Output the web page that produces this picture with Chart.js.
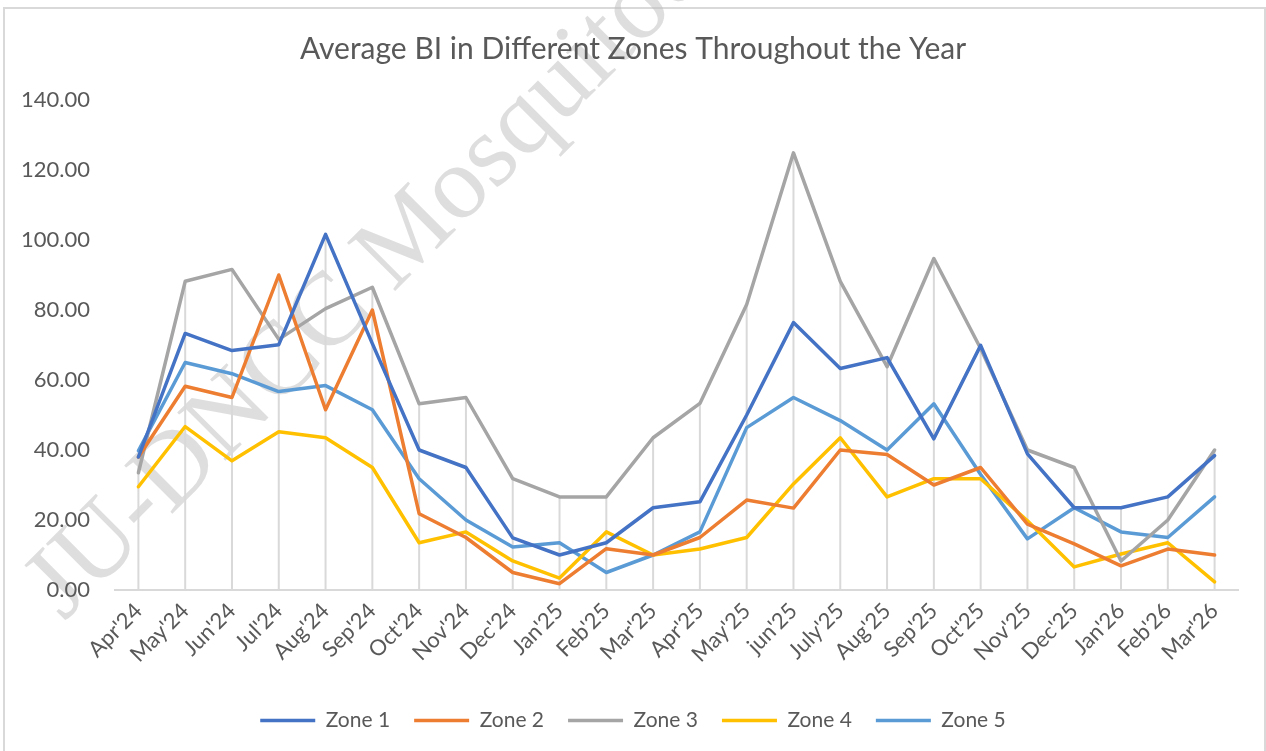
<!DOCTYPE html>
<html>
<head>
<meta charset="utf-8">
<script src="https://cdn.jsdelivr.net/npm/chart.js@4"></script>
<style>
  html, body { margin: 0; padding: 0; background: #fff; }
  #wrap { width: 1266px; height: 751px; }
</style>
</head>
<body>
<div id="wrap"><canvas id="bi-chart"></canvas></div>
<script>
var months = ["Apr'24", "May'24", "Jun'24", "Jul'24", "Aug'24", "Sep'24", "Oct'24", "Nov'24",
  "Dec'24", "Jan'25", "Feb'25", "Mar'25", "Apr'25", "May'25", "jun'25", "July'25",
  "Aug'25", "Sep'25", "Oct'25", "Nov'25", "Dec'25", "Jan'26", "Feb'26", "Mar'26"];
var zone1 = [38.0, 73.3, 68.4, 70.1, 101.6, 70.4, 40.0, 35.0, 14.9, 10.0, 13.5, 23.5,
  25.2, 50.0, 76.4, 63.3, 66.4, 43.2, 69.9, 38.9, 23.5, 23.5, 26.6, 38.4];
var zone2 = [38.0, 58.2, 55.0, 90.0, 51.5, 80.0, 21.8, 15.0, 5.0, 1.8, 11.8, 10.0,
  15.0, 25.7, 23.4, 40.0, 38.7, 30.0, 35.0, 18.8, 13.2, 6.9, 11.7, 10.0];
var zone3 = [33.5, 88.2, 91.6, 71.6, 80.4, 86.5, 53.2, 55.0, 31.8, 26.6, 26.6, 43.5,
  53.3, 81.6, 124.9, 88.2, 63.8, 94.7, 69.0, 40.0, 35.0, 8.3, 20.0, 40.0];
var zone4 = [29.5, 46.7, 36.9, 45.2, 43.5, 35.0, 13.5, 16.6, 8.3, 3.4, 16.6, 10.0,
  11.7, 15.0, 30.3, 43.5, 26.6, 31.8, 31.8, 19.8, 6.6, 10.3, 13.5, 2.3];
var zone5 = [39.8, 65.0, 61.8, 56.7, 58.4, 51.5, 31.8, 20.0, 12.3, 13.5, 5.0, 10.0,
  16.6, 46.4, 55.0, 48.4, 40.0, 53.2, 33.0, 14.6, 23.5, 16.6, 15.0, 26.6];
var zoneNames = ['Zone 1', 'Zone 2', 'Zone 3', 'Zone 4', 'Zone 5'];
var zoneColors = ['#4472C4', '#ED7D31', '#A5A5A5', '#FFC000', '#5B9BD5'];

var textColor = '#595959';
var fontFamily = 'Lato, "Open Sans", sans-serif';

// white page, chart frame and the watermark behind everything
var backdrop = {
  id: 'backdrop',
  beforeDraw: function (chart) {
    var ctx = chart.ctx;
    ctx.save();
    ctx.fillStyle = '#fff';
    ctx.fillRect(0, 0, chart.width, chart.height);
    ctx.strokeStyle = '#d9d9d9';
    ctx.lineWidth = 2;
    ctx.strokeRect(4, 8, chart.width - 5, chart.height + 10);
    ctx.translate(64, 622);
    ctx.rotate(-Math.PI / 4);
    ctx.font = '104px "Liberation Serif", serif';
    ctx.fillStyle = 'rgba(190, 190, 190, 0.5)';
    ctx.textBaseline = 'alphabetic';
    ctx.fillText('JU-DNCC Mosquitoes', 0, 0);
    ctx.restore();
  }
};

// Excel style drop lines: from the highest point of each month down to the axis
var dropLines = {
  id: 'dropLines',
  beforeDatasetsDraw: function (chart) {
    var ctx = chart.ctx;
    var x = chart.scales.x;
    var y = chart.scales.y;
    ctx.save();
    ctx.strokeStyle = '#d9d9d9';
    ctx.lineWidth = 2;
    months.forEach(function (m, i) {
      var top = Math.max.apply(null, chart.data.datasets.map(function (ds) { return ds.data[i]; }));
      var px = x.getPixelForValue(i);
      ctx.beginPath();
      ctx.moveTo(px, y.getPixelForValue(top));
      ctx.lineTo(px, y.getPixelForValue(0));
      ctx.stroke();
    });
    ctx.restore();
  }
};

var series = [zone1, zone2, zone3, zone4, zone5];

new Chart('bi-chart', {
  type: 'line',
  data: {
    labels: months,
    datasets: series.map(function (values, i) {
      return {
        label: zoneNames[i],
        data: values,
        borderColor: zoneColors[i],
        backgroundColor: zoneColors[i],
        borderWidth: 3.5,
        borderJoinStyle: 'round',
        borderCapStyle: 'round',
        pointRadius: 0,
        pointHoverRadius: 0,
        tension: 0,
        fill: false,
      };
    }),
  },
  plugins: [backdrop, dropLines],
  options: {
    responsive: true,
    maintainAspectRatio: false,
    animation: false,
    layout: { padding: { top: 0, left: 0, right: 0, bottom: 10 } },
    plugins: {
      title: {
        display: true,
        text: 'Average BI in Different Zones Throughout the Year',
        color: textColor,
        font: { family: fontFamily, size: 30, weight: 'normal' },
        padding: { top: 31, bottom: 33 },
      },
      legend: {
        position: 'bottom',
        labels: {
          color: textColor,
          font: { family: fontFamily, size: 21 },
          usePointStyle: true,
          pointStyle: 'line',
          pointStyleWidth: 55,
          padding: 24,
        },
      },
      tooltip: { enabled: false },
    },
    scales: {
      x: {
        offset: true,
        grid: { display: false, drawTicks: false },
        border: { display: true, color: '#d9d9d9', width: 2 },
        ticks: {
          color: textColor,
          font: { family: fontFamily, size: 22 },
          maxRotation: 45,
          minRotation: 45,
          autoSkip: false,
          padding: 8,
        },
        afterFit: function (scale) { scale.height = 96; },
      },
      y: {
        min: 0,
        max: 140,
        grid: { display: false, drawTicks: false },
        border: { display: false },
        ticks: {
          stepSize: 20,
          color: textColor,
          font: { family: fontFamily, size: 22 },
          padding: 25,
          callback: function (v) { return v.toFixed(2); },
        },
        afterFit: function (scale) { scale.width = 115; },
      },
      // empty strip on the right so the plot ends where Excel's does
      spacer: {
        type: 'linear',
        position: 'right',
        grid: { display: false, drawTicks: false },
        border: { display: false },
        ticks: { display: false },
        afterFit: function (scale) { scale.width = 28; },
      },
    },
  },
});
</script>
</body>
</html>
